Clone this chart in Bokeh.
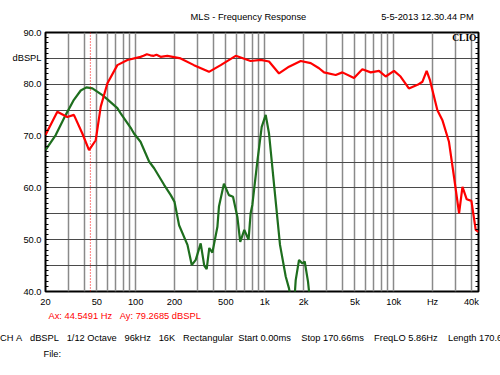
from bokeh.plotting import figure
from bokeh.models import FixedTicker, LinearAxis, Range1d, Span, Label, Title
from bokeh.embed import file_html
from bokeh.resources import INLINE

FONT = "Liberation Sans"
FS = "9.3px"
NB = "\u00a0"

# ---- data ----
red_f = [20, 24.7, 29.5, 33.2, 38.6, 43.5, 49, 53.6, 60.4, 72.1, 86.3, 109, 115, 122, 130, 138, 145, 156,
         176, 223, 283, 370, 456, 596, 778, 931, 1080, 1291, 1543, 1901, 2274, 2637, 2883, 3550,
         4000, 4923, 5712, 6632, 7692, 8665, 10050, 11300, 13100, 15300, 16700, 18000, 19100,
         21800, 23900, 26800, 29300, 32100, 34100, 36800, 40000, 43200, 45400]
red_db = [70.2, 74.7, 73.7, 74.1, 70.5, 67.3, 69.2, 75.7, 80.2, 83.7, 84.7, 85.3, 85.5, 85.8, 85.6, 85.5, 85.7, 85.3,
          85.5, 85.0, 83.7, 82.4, 83.7, 85.5, 84.5, 84.7, 84.4, 82.1, 83.4, 84.5, 84.1, 83.1, 82.3, 81.8,
          82.3, 81.2, 82.9, 82.3, 82.6, 81.5, 82.6, 81.5, 79.2, 79.9, 80.5, 82.6, 80.8,
          75.0, 73.0, 68.9, 62.2, 55.1, 60.2, 57.8, 57.5, 51.9, 51.5]

green_f = [20, 24.0, 28.7, 33.2, 37.5, 41.5, 46.2, 55.2, 60.4, 72.1, 76.5, 91.5, 97, 109, 127, 139, 166,
           187, 200, 217, 252, 272, 292, 319, 340, 355, 372, 393, 430, 442, 483, 528, 568, 614, 646,
           695, 750, 778, 802, 877, 948, 1018, 1080, 1168, 1314, 1455, 1543, 1620, 1700, 1739, 1845,
           1960, 2042, 2166, 2250]
green_db = [67.3, 70.2, 74.1, 77.0, 78.8, 79.4, 79.2, 77.9, 77.1, 75.4, 74.4, 71.6, 70.5, 68.9, 65.1, 63.8, 60.6,
            58.6, 57.3, 52.8, 49.0, 45.1, 46.1, 49.3, 45.0, 44.3, 48.4, 47.5, 52.5, 56.4, 60.8, 58.6, 58.3, 54.4, 49.6,
            51.9, 50.0, 55.1, 56.7, 65.1, 71.8, 74.1, 70.5, 61.9, 49.0, 42.9, 40.6, 37.5, 38.5, 42.2, 46.1,
            45.4, 45.8, 41.9, 38.0]

x_ticks = [20, 30, 40, 50, 60, 70, 80, 90, 100, 200, 300, 400, 500, 600, 700, 800, 900,
           1000, 2000, 3000, 4000, 5000, 6000, 7000, 8000, 9000, 10000, 20000, 30000, 40000]
x_named = {20: "20", 50: "50", 100: "100", 200: "200", 500: "500", 1000: "1k",
           2000: "2k", 5000: "5k", 10000: "10k", 20000: "Hz", 40000: "40k"}
y_ticks = [40, 45, 50, 55, 60, 65, 70, 75, 80, 85, 90]
y_named = {90: "90.0", 85: "dBSPL", 80: "80.0", 70: "70.0", 60: "60.0", 50: "50.0", 40: "40.0"}
y_minor = list(range(40, 91))

cursor_f = 44.5491
cursor_db = 79.2685

title_text = "MLS - Frequency Response"
date_text = "5-5-2013 12.30.44 PM"
info_tokens = ["CH A", "dBSPL", "1/12 Octave", "96kHz", "16K", "Rectangular",
               "Start 0.00ms", "Stop 170.66ms", "FreqLO 5.86Hz", "Length 170.66ms"]
info_gaps = [3, 3, 3, 3, 3, 2, 4, 4, 4]

# ---- figure ----
p = figure(frame_width=433, frame_height=259, x_axis_type="log",
           x_range=Range1d(20, 45400), y_range=Range1d(40, 90),
           output_backend="svg", toolbar_location=None,
           min_border_left=45, min_border_right=22, min_border_top=32, min_border_bottom=84)
p.background_fill_color = "white"
p.border_fill_color = "white"
p.outline_line_color = "black"
p.outline_line_width = 2

xa = p.xaxis[0]
xa.ticker = FixedTicker(ticks=x_ticks)
xa.major_label_overrides = {t: x_named.get(t, "") for t in x_ticks}
xa.major_tick_out = 0
xa.major_tick_in = 0
xa.minor_tick_out = 0
xa.axis_line_color = None
xa.major_label_standoff = 5
xa.major_label_text_font = FONT
xa.major_label_text_font_size = FS
xa.major_label_text_color = "black"

ya = p.yaxis[0]
ya.ticker = FixedTicker(ticks=y_ticks, minor_ticks=y_minor)
ya.major_label_overrides = {t: y_named.get(t, "") for t in y_ticks}
ya.major_tick_out = 0
ya.major_tick_in = 0
ya.minor_tick_out = 0
ya.minor_tick_in = 3
ya.minor_tick_line_color = "black"
ya.axis_line_color = None
ya.major_label_standoff = 4
ya.major_label_text_font = FONT
ya.major_label_text_font_size = FS
ya.major_label_text_color = "black"

ra = LinearAxis(ticker=FixedTicker(ticks=y_ticks, minor_ticks=y_minor))
ra.major_label_overrides = {t: "" for t in y_ticks}
ra.major_tick_out = 0
ra.major_tick_in = 0
ra.minor_tick_out = 0
ra.minor_tick_in = 3
ra.minor_tick_line_color = "black"
ra.axis_line_color = None
ra.major_label_standoff = 0
ra.major_label_text_font_size = "1px"
p.add_layout(ra, "right")

p.xgrid.grid_line_color = "#8a8a8a"
p.xgrid.grid_line_width = 1.5
p.ygrid.grid_line_color = "#4a4a4a"
p.ygrid.grid_line_width = 1

p.line(green_f, green_db, line_color="#1e6e1e", line_width=2.2)
p.line(red_f, red_db, line_color="#ff0000", line_width=2.2)

p.add_layout(Span(location=cursor_f, dimension="height", line_color="#ff0000",
                  line_dash="1 2", line_width=1))

p.add_layout(Label(x=431, y=253.5, x_units="screen", y_units="screen", text="CLIO",
                   text_align="right", text_baseline="middle", text_color="black",
                   text_font="Liberation Serif", text_font_style="bold", text_font_size="9.5px"))

# top row: title and date
p.title.text = title_text + NB * 29 + date_text
p.title.align = "left"
p.title.offset = 145
p.title.vertical_align = "middle"
p.title.standoff = 20
p.title.text_font = FONT
p.title.text_font_size = FS
p.title.text_font_style = "normal"
p.title.text_color = "black"

def row(text, offset, standoff, color="black"):
    t = Title(text=text, align="left", offset=offset, vertical_align="middle",
              standoff=standoff, text_font=FONT, text_font_size=FS,
              text_font_style="normal", text_color=color)
    p.add_layout(t, "below")

ax_text = "Ax: %.4f Hz" % cursor_f + NB * 3 + "Ay: %.4f dBSPL" % cursor_db
info_text = info_tokens[0]
for g, tok in zip(info_gaps, info_tokens[1:]):
    info_text += NB * g + tok.replace(" ", NB)
info_text = info_text.replace("CH A", "CH" + NB + "A")

row(ax_text, 3, 0.4, color="#ff0000")
row(info_text, -45.5, 19.6)
row("File:", -2, -12)

open("out.html", "w").write(file_html(p, INLINE))
